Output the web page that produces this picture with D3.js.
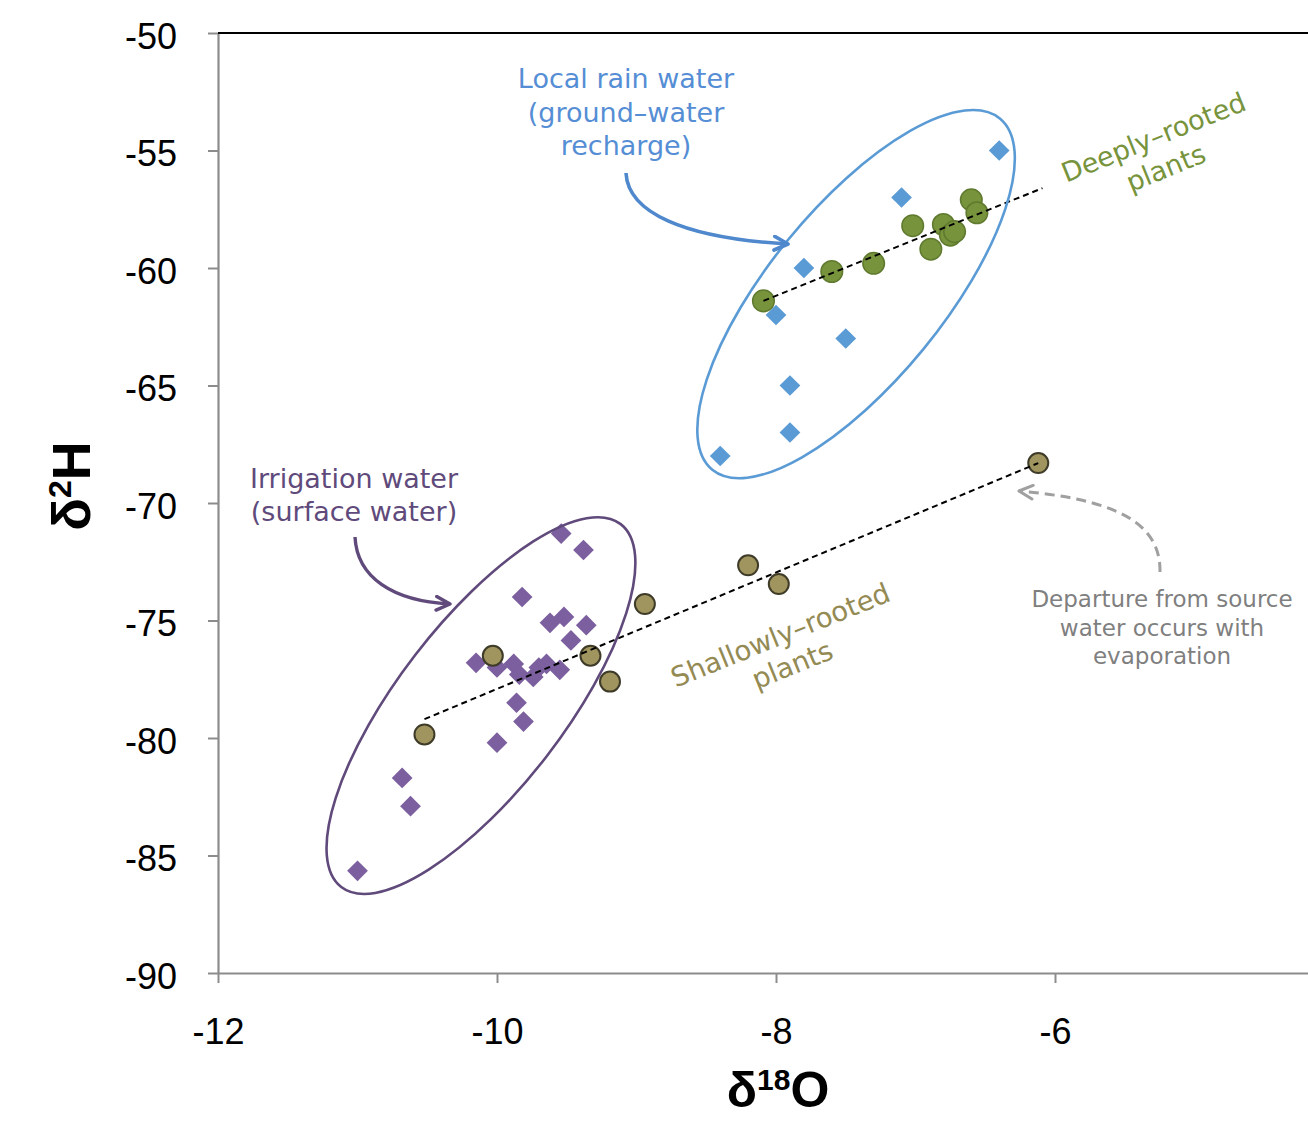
<!DOCTYPE html>
<html><head><meta charset="utf-8">
<script src="https://cdn.jsdelivr.net/npm/d3@7"></script>
<style>html,body{margin:0;padding:0;background:#fff;overflow:hidden}</style>
</head><body>
<svg id="chart" width="1308" height="1121"></svg>
<script>
// ---- data ----
const xTicks = [-12, -10, -8, -6];
const yTicks = [-90, -85, -80, -75, -70, -65, -60, -55, -50];

// Local rain water (ground-water recharge) – blue diamonds
const rainWater = [[-6.4,-55],[-7.1,-57],[-7.8,-60],[-8.0,-62],[-7.5,-63],[-7.9,-65],[-7.9,-67],[-8.4,-68]];
// Irrigation water (surface water) – purple diamonds
const irrigationWater = [[-9.54,-71.3],[-9.38,-72.0],[-9.82,-74.0],[-9.62,-75.1],[-9.52,-74.85],[-9.36,-75.2],
  [-9.47,-75.85],[-10.15,-76.8],[-10.0,-77.0],[-9.88,-76.85],[-9.84,-77.3],[-9.70,-77.0],[-9.74,-77.4],
  [-9.645,-76.85],[-9.55,-77.1],[-9.86,-78.5],[-9.81,-79.3],[-10.0,-80.2],[-10.68,-81.7],[-10.62,-82.9],[-11.0,-85.65]];
// Deeply-rooted plants – green circles
const deepPlants = [[-8.09,-61.4],[-7.6,-60.15],[-7.3,-59.8],[-7.02,-58.2],[-6.89,-59.2],[-6.8,-58.15],
  [-6.75,-58.6],[-6.72,-58.45],[-6.6,-57.1],[-6.56,-57.65]];
// Shallowly-rooted plants – olive circles
const shallowPlants = [[-10.52,-79.85],[-10.03,-76.5],[-9.33,-76.5],[-9.19,-77.6],[-8.94,-74.3],[-8.2,-72.65],[-7.98,-73.45],[-6.12,-68.3]];
// trend lines (end points)
const deepLine = [[-8.09,-61.4],[-6.09,-56.6]];
const shallowLine = [[-10.52,-79.2],[-6.12,-68.3]];
// ellipse centres (data units)
const rainCentre = [-7.426,-61.11];
const irrigationCentre = [-10.115,-78.62];

// ---- layout ----
const svg = d3.select('#chart');
const x = d3.scaleLinear().domain([-12,-4]).range([218,1334]);
const y = d3.scaleLinear().domain([-90,-50]).range([973,33]);
const FONT_TICK = "'Liberation Sans', Arial, sans-serif";
const FONT_NOTE = "'DejaVu Sans', Verdana, sans-serif";

const defs = svg.append('defs');
function marker(id, color, sw){
  defs.append('marker').attr('id',id).attr('viewBox','0 0 10 10')
    .attr('refX',9).attr('refY',5).attr('markerWidth',17).attr('markerHeight',17)
    .attr('markerUnits','userSpaceOnUse').attr('orient','auto')
    .append('path').attr('d','M1,1 L9,5 L1,9').attr('fill','none')
    .attr('stroke',color).attr('stroke-width',sw).attr('stroke-linecap','round').attr('stroke-linejoin','round');
}
marker('arrBlue','#4f88cc',2.2);
marker('arrPurple','#604a7b',2.0);
marker('arrGray','#a0a0a0',1.8);

// axes
const gx = svg.append('g').attr('transform',`translate(0,${y(-90)})`)
  .call(d3.axisBottom(x).tickValues(xTicks).tickSize(10).tickSizeOuter(0).tickPadding(35).tickFormat(d=>String(d)));
const gy = svg.append('g').attr('transform',`translate(${x(-12)},0)`)
  .call(d3.axisLeft(y).tickValues(yTicks).tickSize(10).tickSizeOuter(0).tickPadding(31).tickFormat(d=>String(d)));
[gx,gy].forEach(g=>{
  g.select('.domain').attr('stroke','#8c8c8c').attr('stroke-width',2.2);
  g.selectAll('.tick line').attr('stroke','#8c8c8c').attr('stroke-width',2);
  g.selectAll('.tick text').attr('fill','#000').style('font-family',FONT_TICK).style('font-size','36px');
});
gy.selectAll('.tick text').attr('dy','0.42em');
// top border
svg.append('line').attr('x1',x(-12)).attr('x2',x(-4)).attr('y1',y(-50)).attr('y2',y(-50))
  .attr('stroke','#000').attr('stroke-width',2);

// axis titles
const yt = svg.append('text').attr('transform',`translate(90,486) rotate(-90)`)
  .attr('text-anchor','middle').style('font-family',FONT_TICK).style('font-weight','bold').style('font-size','54px');
yt.append('tspan').text('δ');
yt.append('tspan').text('2').style('font-size','32px').attr('dy',-19);
yt.append('tspan').text('H').attr('dy',19);
const xt = svg.append('text').attr('x',778).attr('y',1107)
  .attr('text-anchor','middle').style('font-family',FONT_TICK).style('font-weight','bold').style('font-size','50px');
xt.append('tspan').text('δ');
xt.append('tspan').text('18').style('font-size','30px').attr('dy',-17);
xt.append('tspan').text('O').attr('dy',17);

// markers
const diamond = d3.symbol().type(d3.symbolSquare).size(215);
function diamonds(data, color){
  svg.append('g').selectAll('path').data(data).join('path')
    .attr('d',diamond).attr('transform',d=>`translate(${x(d[0])},${y(d[1])}) rotate(45)`)
    .attr('fill',color);
}
diamonds(rainWater,'#5b9bd5');
diamonds(irrigationWater,'#7b5f9e');
svg.append('g').selectAll('circle').data(deepPlants).join('circle')
  .attr('cx',d=>x(d[0])).attr('cy',d=>y(d[1])).attr('r',10.8)
  .attr('fill','#77933c').attr('stroke','#5f7a2e').attr('stroke-width',1.5);
svg.append('g').selectAll('circle').data(shallowPlants).join('circle')
  .attr('cx',d=>x(d[0])).attr('cy',d=>y(d[1])).attr('r',10)
  .attr('fill','#a0945f').attr('stroke','#3e3b28').attr('stroke-width',2);

// trend lines
const line = d3.line().x(d=>x(d[0])).y(d=>y(d[1]));
[deepLine, shallowLine].forEach(l=>{
  svg.append('path').attr('d',line(l)).attr('fill','none')
    .attr('stroke','#000').attr('stroke-width',2).attr('stroke-dasharray','6,4');
});

// ellipses
function ellipse(c, rx, ry, ang, color){
  svg.append('ellipse').attr('cx',0).attr('cy',0).attr('rx',rx).attr('ry',ry)
    .attr('transform',`translate(${x(c[0])},${y(c[1])}) rotate(${ang})`)
    .attr('fill','none').attr('stroke',color).attr('stroke-width',2.6);
}
ellipse(rainCentre, 227, 87, -50.7, '#5b9bd5');
ellipse(irrigationCentre, 229, 83, -52.4, '#604a7b');

// arrows
svg.append('path').attr('d','M626,173 C628,212 682,238 788,244').attr('fill','none')
  .attr('stroke','#4f88cc').attr('stroke-width',3.6).attr('marker-end','url(#arrBlue)');
svg.append('path').attr('d','M355,537 C357,577 392,601 450,604').attr('fill','none')
  .attr('stroke','#604a7b').attr('stroke-width',3.4).attr('marker-end','url(#arrPurple)');
svg.append('path').attr('d','M1160,572 C1161,520 1110,499 1019,491').attr('fill','none')
  .attr('stroke','#a0a0a0').attr('stroke-width',3).attr('stroke-dasharray','10,6').attr('marker-end','url(#arrGray)');

// annotation texts
const notes = [
  {lines:['Local rain water','(ground–water','recharge)'], x:626, y:88, lh:33.5, size:27, color:'#558ed5', rot:0},
  {lines:['Irrigation water','(surface water)'], x:354, y:488, lh:32.5, size:27, color:'#604a7b', rot:0},
  {lines:['Deeply–rooted','plants'], x:1157, y:146, lh:33, size:27, color:'#77933c', rot:-22},
  {lines:['Shallowly–rooted','plants'], x:784, y:644, lh:32, size:27.5, color:'#948a54', rot:-22},
  {lines:['Departure from source','water occurs with','evaporation'], x:1162, y:607, lh:28.5, size:23, color:'#7f7f7f', rot:0}
];
notes.forEach(n=>{
  const g = svg.append('g').attr('transform',`translate(${n.x},${n.y}) rotate(${n.rot})`);
  g.selectAll('text').data(n.lines).join('text')
    .attr('x',0).attr('y',(d,i)=>i*n.lh).attr('text-anchor','middle')
    .style('font-family',FONT_NOTE).style('font-size',n.size+'px').attr('fill',n.color).text(d=>d);
});
</script>
</body></html>
